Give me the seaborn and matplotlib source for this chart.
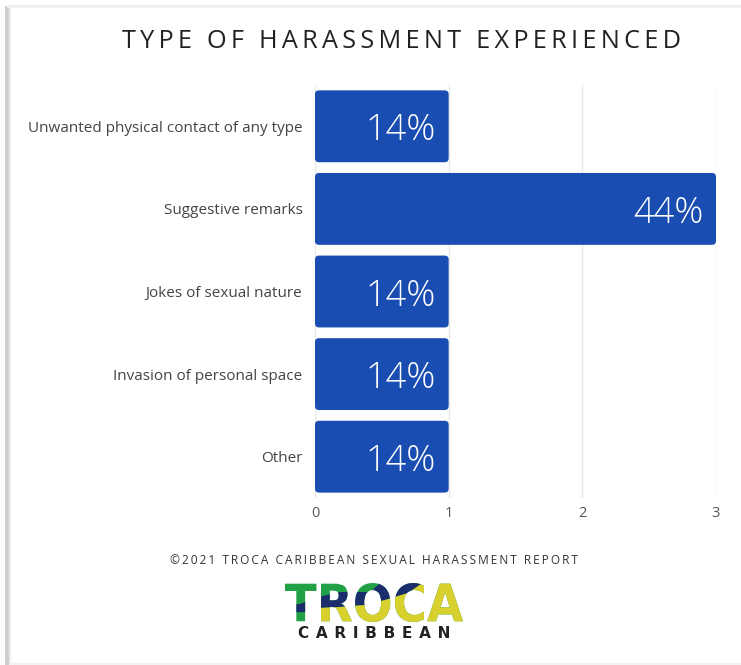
import matplotlib
matplotlib.use("Agg")
import matplotlib.pyplot as plt
from matplotlib.font_manager import FontProperties
from matplotlib.patches import FancyBboxPatch, PathPatch, Polygon, Rectangle
from matplotlib.textpath import TextPath
from matplotlib.transforms import Affine2D, IdentityTransform
import pandas as pd
import seaborn as sns

# Survey results: number of respondents per harassment type
categories = [
    "Unwanted physical contact of any type",
    "Suggestive remarks",
    "Jokes of sexual nature",
    "Invasion of personal space",
    "Other",
]
counts = [1, 3, 1, 1, 1]
pct_labels = ["14%", "44%", "14%", "14%", "14%"]
x_ticks = [0, 1, 2, 3]

TITLE = "TYPE OF HARASSMENT EXPERIENCED"
FOOTER = "©2021 TROCA CARIBBEAN SEXUAL HARASSMENT REPORT"
LOGO = "TROCA"
LOGO_SUB = "CARIBBEAN"

BAR_COLOR = "#1A4DB2"
W, H = 741, 665

sns.set_theme(style="white")
plt.rcParams["font.family"] = ["Open Sans", "DejaVu Sans"]


def spaced(text, sep="\u2009"):
    return sep.join(text)


def fx(px):
    return px / W


def fy(py):
    return 1 - py / H


fig = plt.figure(figsize=(W / 100, H / 100), dpi=100)
fig.patch.set_facecolor("white")

# card edges
fig.add_artist(Rectangle((fx(5), 0), fx(4), fy(6), transform=fig.transFigure,
                         facecolor="#cfcfcf", edgecolor="none"))
fig.add_artist(Rectangle((fx(9), 0), fx(2), fy(6), transform=fig.transFigure,
                         facecolor="#ececec", edgecolor="none"))
fig.add_artist(Rectangle((fx(7), fy(8)), 1, 3 / H, transform=fig.transFigure,
                         facecolor="#efefef", edgecolor="none"))
fig.add_artist(Rectangle((fx(9), 0), 1, 2 / H, transform=fig.transFigure,
                         facecolor="#f2f2f2", edgecolor="none"))

ax = fig.add_axes([fx(315), fy(498), fx(716 - 315), (498 - 85) / H])
df = pd.DataFrame({"type": categories, "count": counts})
sns.barplot(data=df, y="type", x="count", orient="h", color=BAR_COLOR,
            saturation=1, width=0.87, ax=ax)

ax.set_xlim(0, 3)
ax.set_xticks(x_ticks)
ax.set_xticklabels([str(t) for t in x_ticks])
ax.set_xlabel("")
ax.set_ylabel("")
ax.xaxis.grid(True, color="#e6e6e6", linewidth=1)
ax.set_axisbelow(True)
for s in ax.spines.values():
    s.set_visible(False)
ax.tick_params(axis="x", length=0, pad=6, labelsize=10.5, labelcolor="#555555")
ax.tick_params(axis="y", length=0, pad=9, labelsize=11, labelcolor="#444444")

# swap the plain rectangles for ones with softly rounded corners
ax_w = fx(716 - 315) * W / 3.0
ax_h = (498 - 85) / 5.0
for rect in list(ax.patches):
    rounded = FancyBboxPatch(
        (rect.get_x(), rect.get_y()), rect.get_width(), rect.get_height(),
        boxstyle="round,pad=0,rounding_size=0.03",
        mutation_aspect=ax_w / ax_h,
        facecolor=rect.get_facecolor(), edgecolor="none", zorder=rect.get_zorder())
    rect.set_visible(False)
    ax.add_patch(rounded)

for i, (v, lab) in enumerate(zip(counts, pct_labels)):
    ax.annotate(lab, xy=(v, i), xytext=(-9, 0), textcoords="offset points",
                ha="right", va="center_baseline", color="white",
                fontsize=26, fontweight="light")

fig.text(fx(402), fy(42), spaced(TITLE), ha="center", va="center",
         fontsize=18.2, color="#222222")
fig.text(fx(374), fy(560), spaced(FOOTER), ha="center", va="center",
         fontsize=8.6, color="#333333")

# logo: three-colour wordmark drawn as outlines so it can be clipped
fp = FontProperties(family="DejaVu Sans", weight="black")
tp = TextPath((0, 0), LOGO, size=50, prop=fp)
bb = tp.get_extents()
logo_x0, logo_x1, logo_top, logo_base = 285, 463, 583, 622
place = (Affine2D().translate(-bb.x0, -bb.y0)
         .scale((logo_x1 - logo_x0) / bb.width, (logo_base - logo_top) / bb.height)
         .translate(logo_x0, H - logo_base))
green_poly = [(270, 560), (480, 560), (480, 650), (270, 650)]
navy_poly = [(270, 606), (300, 604), (318, 597), (340, 592), (370, 592),
             (386, 578), (392, 560), (440, 560), (424, 582), (408, 593),
             (385, 600), (365, 605), (340, 607), (318, 608), (305, 612),
             (270, 613)]
yellow_poly = [(312, 610), (318, 608), (340, 607), (365, 605), (385, 600),
               (408, 593), (424, 582), (440, 560), (490, 560), (490, 650),
               (312, 650)]
for pts, col in [(green_poly, "#22A046"), (navy_poly, "#1C2D6E"),
                 (yellow_poly, "#D8D02C")]:
    letters = PathPatch(place.transform_path(tp), facecolor=col,
                        edgecolor="none", transform=IdentityTransform())
    clip = Polygon([(x, H - y) for x, y in pts], closed=True,
                   transform=IdentityTransform())
    letters.set_clip_path(clip)
    fig.add_artist(letters)

fig.text(fx(374.5), fy(634), spaced(LOGO_SUB, " \u200a"), ha="center",
         va="center", fontsize=11, fontweight="bold", color="#222222",
         family=["DejaVu Sans"])

fig.savefig("out.png", dpi=100, facecolor="white")
